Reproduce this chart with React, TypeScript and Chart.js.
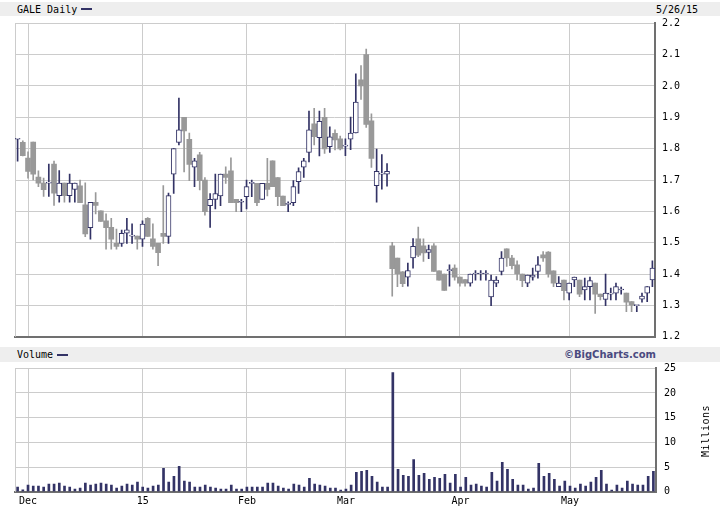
import React, { useEffect, useRef } from "react";
import { Chart, registerables } from "chart.js";
Chart.register(...registerables);

const dates: string[] = ["11/26","11/28","12/1","12/2","12/3","12/4","12/5","12/8","12/9","12/10","12/11","12/12","12/15","12/16","12/17","12/18","12/19","12/22","12/23","12/24","12/26","12/29","12/30","12/31","1/2","1/5","1/6","1/7","1/8","1/9","1/12","1/13","1/14","1/15","1/16","1/20","1/21","1/22","1/23","1/26","1/27","1/28","1/29","1/30","2/2","2/3","2/4","2/5","2/6","2/9","2/10","2/11","2/12","2/13","2/17","2/18","2/19","2/20","2/23","2/24","2/25","2/26","2/27","3/2","3/3","3/4","3/5","3/6","3/9","3/10","3/11","3/12","3/13","3/16","3/17","3/18","3/19","3/20","3/23","3/24","3/25","3/26","3/27","3/30","3/31","4/1","4/2","4/6","4/7","4/8","4/9","4/10","4/13","4/14","4/15","4/16","4/17","4/20","4/21","4/22","4/23","4/24","4/27","4/28","4/29","4/30","5/1","5/4","5/5","5/6","5/7","5/8","5/11","5/12","5/13","5/14","5/15","5/18","5/19","5/20","5/21","5/22","5/26"];

const opens: number[] = [1.83,1.82,1.77,1.821,1.709,1.69,1.69,1.751,1.65,1.69,1.65,1.67,1.681,1.621,1.548,1.629,1.602,1.57,1.549,1.498,1.498,1.53,1.521,1.521,1.511,1.578,1.512,1.498,1.53,1.52,1.719,1.82,1.9,1.83,1.741,1.78,1.7,1.618,1.638,1.649,1.719,1.729,1.638,1.629,1.647,1.689,1.689,1.638,1.689,1.761,1.708,1.649,1.622,1.628,1.695,1.741,1.788,1.879,1.835,1.9,1.806,1.849,1.831,1.808,1.83,1.85,2.02,2.1,1.889,1.682,1.719,1.719,1.49,1.451,1.407,1.39,1.451,1.512,1.49,1.469,1.49,1.41,1.4,1.411,1.419,1.39,1.382,1.371,1.4,1.4,1.4,1.327,1.371,1.408,1.48,1.451,1.429,1.4,1.371,1.39,1.408,1.461,1.47,1.41,1.36,1.381,1.339,1.381,1.381,1.349,1.36,1.371,1.336,1.319,1.336,1.339,1.349,1.339,1.312,1.299,1.32,1.339,1.381];
const highs: number[] = [1.83,1.825,1.79,1.821,1.729,1.706,1.751,1.76,1.73,1.69,1.719,1.69,1.7,1.691,1.629,1.66,1.602,1.592,1.578,1.543,1.54,1.578,1.56,1.521,1.57,1.58,1.56,1.498,1.682,1.658,1.8,1.961,1.9,1.85,1.769,1.788,1.708,1.657,1.719,1.719,1.742,1.771,1.638,1.638,1.7,1.7,1.689,1.689,1.769,1.761,1.708,1.649,1.63,1.698,1.739,1.769,1.92,1.929,1.92,1.929,1.87,1.86,1.84,1.831,1.901,2.039,2.065,2.118,1.911,1.799,1.781,1.752,1.501,1.451,1.408,1.435,1.513,1.55,1.512,1.492,1.497,1.41,1.4,1.429,1.429,1.39,1.382,1.4,1.411,1.411,1.411,1.397,1.392,1.472,1.48,1.46,1.442,1.4,1.397,1.419,1.456,1.472,1.472,1.41,1.392,1.381,1.371,1.39,1.381,1.387,1.39,1.371,1.336,1.4,1.355,1.371,1.358,1.339,1.312,1.299,1.339,1.36,1.442];
const lows: number[] = [1.76,1.777,1.706,1.7,1.679,1.648,1.648,1.619,1.629,1.629,1.629,1.629,1.628,1.519,1.511,1.592,1.568,1.479,1.479,1.479,1.488,1.498,1.498,1.479,1.488,1.52,1.479,1.427,1.498,1.498,1.657,1.812,1.726,1.698,1.679,1.668,1.588,1.549,1.608,1.618,1.689,1.628,1.599,1.599,1.608,1.647,1.618,1.638,1.649,1.679,1.618,1.618,1.599,1.618,1.657,1.708,1.758,1.812,1.777,1.785,1.788,1.796,1.796,1.778,1.797,1.85,1.957,1.868,1.74,1.629,1.671,1.68,1.329,1.36,1.36,1.361,1.419,1.455,1.44,1.449,1.408,1.38,1.348,1.361,1.38,1.361,1.361,1.361,1.38,1.38,1.38,1.299,1.36,1.397,1.424,1.416,1.381,1.36,1.36,1.38,1.387,1.44,1.39,1.36,1.36,1.317,1.317,1.36,1.328,1.317,1.317,1.274,1.317,1.299,1.317,1.317,1.336,1.28,1.28,1.28,1.31,1.312,1.36];
const closes: number[] = [1.83,1.778,1.727,1.719,1.69,1.669,1.69,1.658,1.69,1.65,1.69,1.69,1.628,1.528,1.629,1.619,1.568,1.548,1.511,1.488,1.53,1.541,1.521,1.511,1.559,1.52,1.488,1.468,1.52,1.65,1.8,1.86,1.857,1.75,1.761,1.698,1.599,1.638,1.657,1.719,1.708,1.628,1.628,1.629,1.679,1.689,1.628,1.689,1.67,1.679,1.647,1.618,1.622,1.679,1.727,1.761,1.86,1.838,1.887,1.799,1.838,1.828,1.799,1.808,1.85,1.949,2.0,1.877,1.769,1.728,1.719,1.728,1.417,1.4,1.369,1.411,1.488,1.46,1.467,1.478,1.408,1.38,1.348,1.411,1.39,1.371,1.371,1.4,1.4,1.4,1.4,1.381,1.381,1.451,1.451,1.427,1.4,1.379,1.397,1.397,1.429,1.451,1.4,1.371,1.371,1.347,1.371,1.39,1.336,1.36,1.379,1.336,1.328,1.339,1.336,1.36,1.349,1.31,1.301,1.299,1.33,1.36,1.419];

const volumes: number[] = [0.93,0.4,1.33,1.13,1.13,0.93,1.53,1.53,1.73,1.13,0.93,0.53,0.73,1.73,1.33,1.53,1.73,1.53,1.33,0.73,1.13,1.53,1.33,1.93,0.93,0.73,1.13,1.33,4.73,1.93,3.13,5.13,2.13,1.93,0.93,0.93,1.33,0.93,0.73,0.53,0.53,1.33,0.53,0.53,0.93,0.93,0.93,0.93,1.73,1.73,1.13,0.73,0.53,1.53,1.33,0.93,2.73,1.53,1.33,1.13,0.73,0.73,0.33,0.53,1.33,3.93,4.13,4.33,3.13,1.93,0.93,0.93,24.13,4.53,3.33,3.13,6.53,3.33,3.73,2.53,2.93,2.73,3.53,1.73,3.53,0.93,2.93,1.33,1.53,1.13,0.93,3.93,2.13,5.93,4.53,2.53,1.33,1.33,0.53,0.73,5.73,3.13,3.73,2.53,1.13,2.13,1.13,0.73,1.53,1.13,1.93,2.93,4.33,1.53,0.33,1.33,0.73,2.13,1.53,1.33,1.33,3.13,4.13];

const monthTickDates: string[] = ["12/1", "1/2", "2/2", "3/2", "4/1", "5/1"];
const monthTickLabels: string[] = ["Dec", "15", "Feb", "Mar", "Apr", "May"];
const priceTicks: number[] = [1.2, 1.3, 1.4, 1.5, 1.6, 1.7, 1.8, 1.9, 2.0, 2.1, 2.2];
const volumeTicks: number[] = [0, 5, 10, 15, 20, 25];

const NAVY = "#333366";
const GRAY = "#999999";
const GRID = "#cccccc";
const AXIS = "#707070";
const MONO = "'DejaVu Sans Mono', monospace";

const leftFrame = {
  id: "leftFrame",
  beforeDatasetsDraw(chart: any) {
    const { ctx, chartArea: a } = chart;
    ctx.save();
    ctx.strokeStyle = GRID;
    ctx.lineWidth = 1;
    ctx.beginPath();
    ctx.moveTo(Math.round(a.left) + 0.5, a.top);
    ctx.lineTo(Math.round(a.left) + 0.5, a.bottom);
    ctx.stroke();
    ctx.restore();
  },
};

export default function App() {
  const priceRef = useRef<HTMLCanvasElement>(null);
  const volRef = useRef<HTMLCanvasElement>(null);

  useEffect(() => {
    Chart.defaults.font.family = MONO;
    Chart.defaults.font.size = 10;
    Chart.defaults.color = "#000";

    const monthIdx = new Map<number, string>();
    monthTickDates.forEach((d, k) => monthIdx.set(dates.indexOf(d), monthTickLabels[k]));
    const gridColor = (ctx: any) => (monthIdx.has(ctx.index) ? GRID : "rgba(0,0,0,0)");
    const isUp = (i: number) => closes[i] >= opens[i];

    const common = {
      grouped: false,
      borderSkipped: false as const,
    };

    const price = new Chart(priceRef.current!, {
      type: "bar",
      data: {
        labels: dates,
        datasets: [
          {
            ...common,
            data: dates.map((_, i) => (isUp(i) ? [opens[i], closes[i]] : null)) as any,
            backgroundColor: "#ffffff",
            borderColor: NAVY,
            borderWidth: 1,
            barThickness: 5,
            minBarLength: 1,
            order: 0,
          },
          {
            ...common,
            data: dates.map((_, i) => (!isUp(i) ? [opens[i], closes[i]] : null)) as any,
            backgroundColor: GRAY,
            borderWidth: 0,
            barThickness: 5,
            minBarLength: 1,
            order: 0,
          },
          {
            ...common,
            data: dates.map((_, i) => (isUp(i) ? [lows[i], highs[i]] : null)) as any,
            backgroundColor: NAVY,
            borderWidth: 0,
            barThickness: 1,
            order: 1,
          },
          {
            ...common,
            data: dates.map((_, i) => (!isUp(i) ? [lows[i], highs[i]] : null)) as any,
            backgroundColor: GRAY,
            borderWidth: 0,
            barThickness: 1,
            order: 1,
          },
        ],
      },
      options: {
        responsive: false,
        animation: false,
        events: [],
        layout: { padding: { left: 15, top: 7.3, right: 0, bottom: 0 } },
        plugins: { legend: { display: false }, tooltip: { enabled: false } },
        scales: {
          x: {
            type: "category",
            offset: true,
            ticks: { display: false },
            grid: { color: gridColor, offset: false, drawTicks: false, lineWidth: 1 },
            border: { color: AXIS, width: 2 },
            afterFit: (s: any) => {
              s.height = 10.3;
            },
          },
          y: {
            position: "right",
            min: 1.2,
            max: 2.2,
            afterBuildTicks: (s: any) => {
              s.ticks = priceTicks.map((v) => ({ value: v }));
            },
            ticks: {
              padding: 0,
              callback: (v: any) => Number(v).toFixed(1),
              font: { family: MONO, size: 10 },
              color: "#000",
            },
            grid: { color: GRID, drawTicks: true, tickLength: 7, tickColor: "rgba(0,0,0,0)" },
            border: { color: AXIS, width: 2 },
            afterFit: (s: any) => {
              s.width = 65;
            },
          },
        },
      },
      plugins: [leftFrame],
    });

    const vol = new Chart(volRef.current!, {
      type: "bar",
      data: {
        labels: dates,
        datasets: [
          {
            data: volumes,
            backgroundColor: NAVY,
            borderWidth: 0,
            barThickness: 2,
          },
        ],
      },
      options: {
        responsive: false,
        animation: false,
        events: [],
        layout: { padding: { left: 15, top: 6.3, right: 0, bottom: 0 } },
        plugins: { legend: { display: false }, tooltip: { enabled: false } },
        scales: {
          x: {
            type: "category",
            offset: true,
            ticks: {
              autoSkip: false,
              maxRotation: 0,
              padding: 4,
              callback: (_v: any, i: number) => (monthIdx.has(i) ? monthIdx.get(i) : ""),
              font: { family: MONO, size: 10 },
              color: "#000",
            },
            grid: { color: gridColor, offset: false, drawTicks: false },
            border: { color: AXIS, width: 2 },
            afterFit: (s: any) => {
              s.height = 18.3;
            },
          },
          y: {
            position: "right",
            min: 0,
            max: 25,
            afterBuildTicks: (s: any) => {
              s.ticks = volumeTicks.map((v) => ({ value: v }));
            },
            ticks: {
              padding: 0,
              font: { family: MONO, size: 10 },
              color: "#000",
            },
            grid: { color: GRID, drawTicks: true, tickLength: 8, tickColor: "rgba(0,0,0,0)" },
            border: { color: AXIS, width: 2 },
            afterFit: (s: any) => {
              s.width = 64;
            },
          },
        },
      },
      plugins: [leftFrame],
    });

    return () => {
      price.destroy();
      vol.destroy();
    };
  }, []);

  const strip: React.CSSProperties = {
    position: "absolute",
    left: 0,
    width: 720,
    background: "#eeeeee",
  };
  const txt: React.CSSProperties = {
    position: "absolute",
    fontFamily: MONO,
    fontSize: 10,
    lineHeight: "12px",
    color: "#000",
    whiteSpace: "nowrap",
  };

  return (
    <div style={{ position: "absolute", left: 0, top: 0, width: 720, height: 510, background: "#fff", overflow: "hidden" }}>
      <div style={{ ...strip, top: 2, height: 14 }}>
        <span style={{ ...txt, left: 17, top: 2 }}>GALE Daily</span>
        <span style={{ position: "absolute", left: 81, top: 6, width: 11, height: 2, background: NAVY }} />
        <span style={{ ...txt, left: 656, top: 2 }}>5/26/15</span>
      </div>
      <canvas ref={priceRef} width={720} height={331} style={{ position: "absolute", left: 0, top: 16, display: "block" }} />
      <div style={{ ...strip, top: 347, height: 15 }}>
        <span style={{ ...txt, left: 17, top: 2 }}>Volume</span>
        <span style={{ position: "absolute", left: 57, top: 6.5, width: 11, height: 2.5, background: NAVY }} />
        <span
          style={{
            position: "absolute",
            right: 64,
            top: 1,
            fontFamily: "'DejaVu Sans', sans-serif",
            fontWeight: "bold",
            fontSize: 10,
            lineHeight: "13px",
            color: "#4a4a80",
            whiteSpace: "nowrap",
          }}
        >
          ©BigCharts.com
        </span>
      </div>
      <canvas ref={volRef} width={720} height={148} style={{ position: "absolute", left: 0, top: 362, display: "block" }} />
      <div
        style={{
          ...txt,
          left: 676,
          top: 425,
          width: 60,
          textAlign: "center",
          transform: "rotate(-90deg)",
          letterSpacing: "0.5px",
        }}
      >
        Millions
      </div>
    </div>
  );
}
